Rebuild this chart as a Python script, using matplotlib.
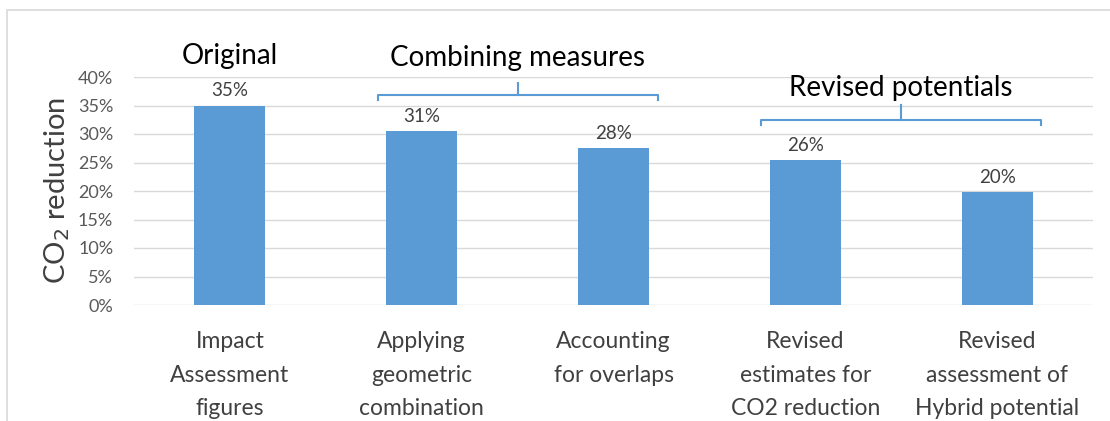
import matplotlib
matplotlib.use('Agg')
import matplotlib.pyplot as plt
from matplotlib.patches import Rectangle
from matplotlib.ticker import PercentFormatter

# Datos
categorias = ['Impact\nAssessment\nfigures', 'Applying\ngeometric\ncombination',
              'Accounting\nfor overlaps', 'Revised\nestimates for\nCO2 reduction',
              'Revised\nassessment of\nHybrid potential']
valores = [0.350, 0.305, 0.275, 0.254, 0.198]
etiquetas = ['35%', '31%', '28%', '26%', '20%']

grupos = ['Original', 'Combining measures', 'Revised potentials']
grupo_inicio = [0, 1, 3]
grupo_fin = [0, 2, 4]

plt.rcParams['font.family'] = ['Lato', 'DejaVu Sans']
azul = '#5B9BD5'

fig = plt.figure(figsize=(11.1, 4.21), dpi=100)
ax = fig.add_axes([134 / 1110, 1 - 305 / 421, 959 / 1110, 228 / 421])

x = range(len(valores))
ax.bar(x, valores, width=0.37, color=azul, zorder=3)
for xi, v, lab in zip(x, valores, etiquetas):
    ax.text(xi, v + 0.011, lab, ha='center', va='bottom', fontsize=13.5, color='#404040')

ax.set_xlim(-0.5, len(valores) - 0.5)
ax.set_ylim(0, 0.40)
ax.set_yticks([i / 100 for i in range(0, 41, 5)])
ax.yaxis.set_major_formatter(PercentFormatter(1.0, decimals=0))
ax.set_xticks(list(x))
ax.set_xticklabels(categorias, fontsize=16.5, color='#404040', linespacing=1.72)
ax.tick_params(axis='x', length=0, pad=19)
ax.tick_params(axis='y', length=0, pad=15, labelsize=13, labelcolor='#595959')
ax.grid(axis='y', color='#d9d9d9', linewidth=1, zorder=0)
for s in ax.spines.values():
    s.set_visible(False)
ax.set_ylabel('CO$_2$ reduction', fontsize=21, color='#404040', labelpad=4)

# Titulos de grupo y llaves
ax.text(0, 0.437, grupos[0], ha='center', va='center', fontsize=20, color='black')

llaves = [(0.368, 0.360, 0.389, 0.433), (0.325, 0.316, 0.351, 0.380)]
for g, (yh, yb, ys, yt) in zip(range(1, 3), llaves):
    a = grupo_inicio[g] - 0.23
    b = grupo_fin[g] + 0.23
    c = (a + b) / 2
    ax.plot([a, a, b, b], [yb, yh, yh, yb], color=azul, lw=1.5, clip_on=False,
            solid_joinstyle='round')
    ax.plot([c, c], [yh, ys], color=azul, lw=1.5, clip_on=False)
    ax.text(c, yt, grupos[g], ha='center', va='center', fontsize=20, color='black')

# Marco
fig.patches.append(Rectangle((7 / 1110, -0.1), 1.2, 1 - 10 / 421 + 0.1,
                             transform=fig.transFigure, fill=False,
                             edgecolor='#d9d9d9', linewidth=1.2))

fig.savefig('out.png', dpi=100)
